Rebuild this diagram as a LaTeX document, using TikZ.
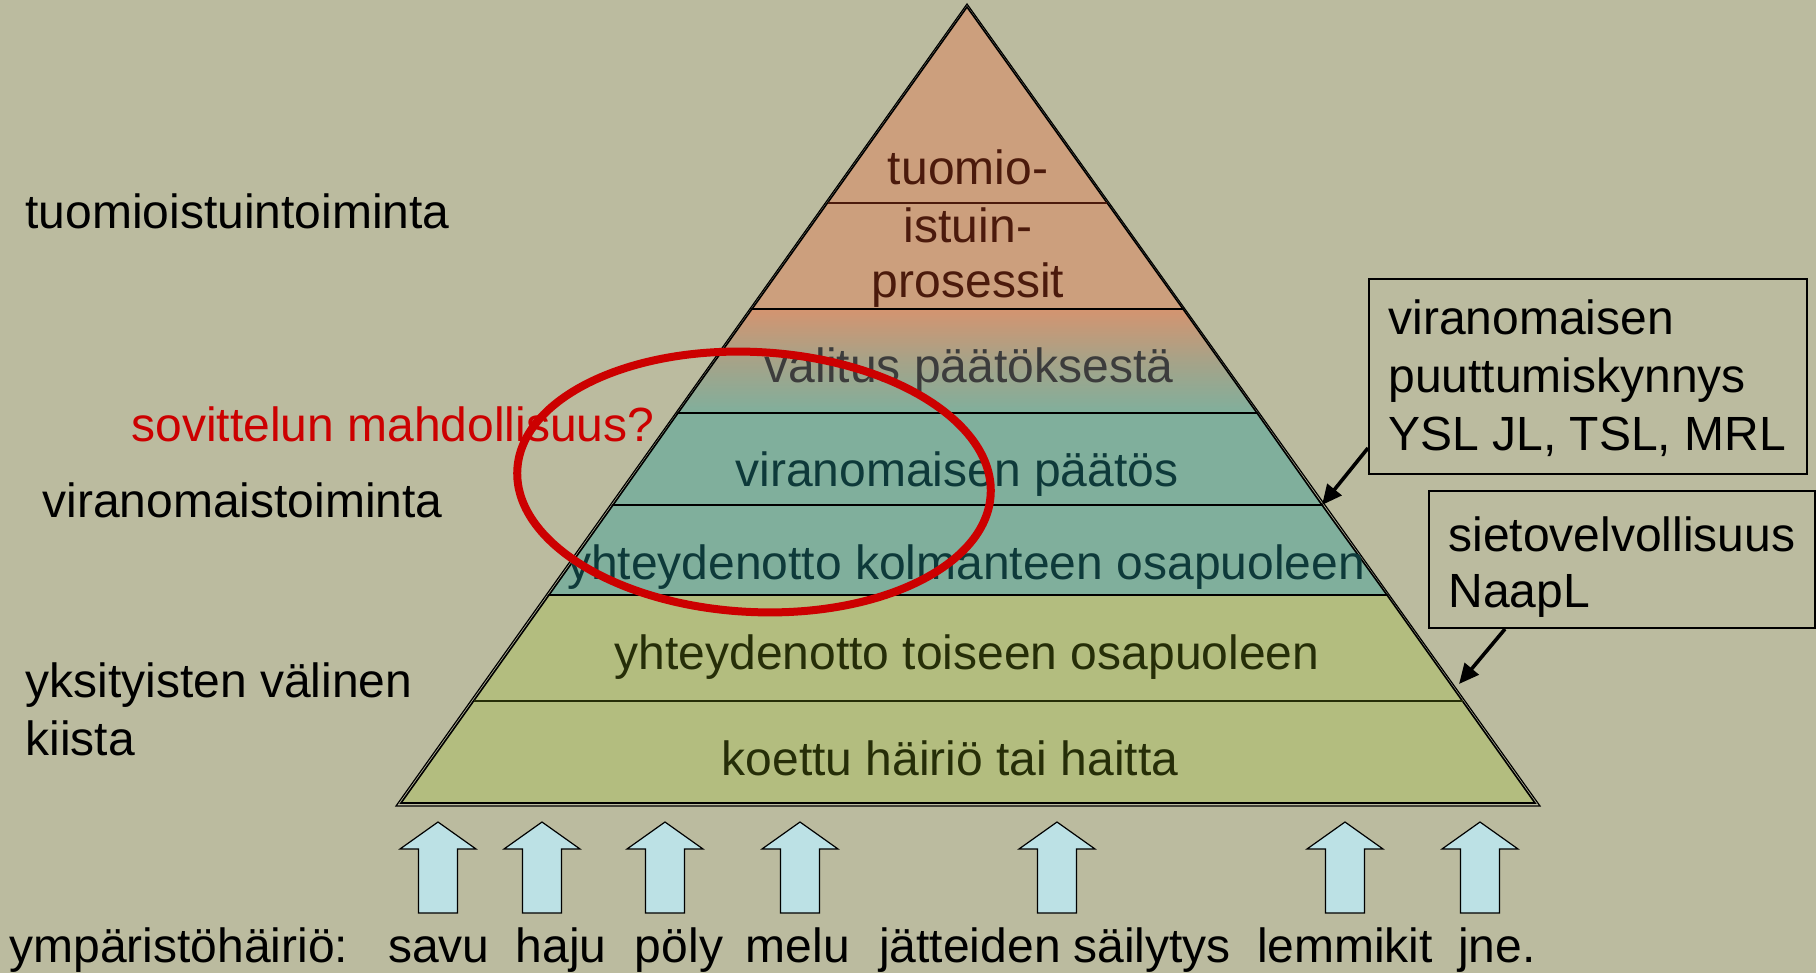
\documentclass[tikz,border=0pt]{standalone}
\usepackage{fontspec}
\setmainfont{Liberation Sans}
\usetikzlibrary{arrows.meta,calc}
\definecolor{bg}{RGB}{187,187,159}
\definecolor{salmon}{RGB}{204,159,125}
\definecolor{salmontop}{RGB}{212,148,112}
\definecolor{tealband}{RGB}{128,175,156}
\definecolor{greenband}{RGB}{179,189,127}
\definecolor{browntext}{RGB}{75,26,12}
\definecolor{tealtext}{RGB}{14,58,58}
\definecolor{greentext}{RGB}{38,46,8}
\definecolor{graytext}{RGB}{60,60,60}
\definecolor{redline}{RGB}{204,0,0}
\definecolor{arrowfill}{RGB}{188,225,229}
\begin{document}
\begin{tikzpicture}[x=0.5pt,y=-0.5pt,
  lbl/.style={font=\fontsize{24}{28}\selectfont, inner sep=0pt, anchor=base west},
  ctr/.style={font=\fontsize{24}{28}\selectfont, inner sep=0pt, anchor=base},
  sect/.style={draw=black, line width=0.8pt},
  blockarrow/.style={fill=arrowfill, draw=black, line width=0.6pt},
  callout/.style={draw=black, line width=1.8pt, -{Triangle[length=10pt,width=9pt]}},
  boxframe/.style={draw=black, line width=1pt, inner sep=0pt, anchor=north west}]
\useasboundingbox (0,0) rectangle (1816,973);
\fill[bg] (0,0) rectangle (1816,973);
% outer outline (double-line effect)
\draw[line width=0.6pt] (967,4) -- (1540,806) -- (396,806) -- cycle;
% sections
\filldraw[sect, fill=salmon] (967,7) -- (1183,309) -- (752,309) -- cycle;
\draw[browntext, line width=0.8pt] (828,203) -- (1107,203);
\shade[top color=salmontop, bottom color=tealband, middle color=salmontop!45!tealband] (752,309) -- (1183,309) -- (1257,413) -- (678,413) -- cycle;
\draw[sect] (752,309) -- (1183,309) -- (1257,413) -- (678,413) -- cycle;
\filldraw[sect, fill=tealband] (678,413) -- (1257,413) -- (1322,505) -- (613,505) -- cycle;
\filldraw[sect, fill=tealband] (613,505) -- (1322,505) -- (1387,595) -- (549,595) -- cycle;
\filldraw[sect, fill=greenband] (549,595) -- (1387,595) -- (1535,803) -- (401,803) -- cycle;
\draw[greentext, line width=0.9pt] (474,701) -- (1463,701);
% pyramid texts
\node[ctr, text=browntext] (t1) at (968,185) {tuomio-};
\node[ctr, text=browntext] (t2) at (968,243) {istuin-};
\node[ctr, text=browntext] (t3) at (968,298) {prosessit};
\node[ctr, text=graytext] (valitus) at (969,382) {valitus päätöksestä};
\node[ctr, text=tealtext] (paatos) at (957,486) {viranomaisen päätös};
\node[ctr, text=tealtext] (kolmas) at (966,579) {yhteydenotto kolmanteen osapuoleen};
\node[ctr, text=greentext] (toinen) at (967,669) {yhteydenotto toiseen osapuoleen};
\node[ctr, text=greentext] (koettu) at (950,775) {koettu häiriö tai haitta};
% left labels
\node[lbl] (tuomiotoim) at (25,229) {tuomioistuintoiminta};
\node[lbl, text=redline] (sovittelu) at (131,441) {sovittelun mahdollisuus?};
\node[lbl] (viranomaistoim) at (42,517) {viranomaistoiminta};
\node[lbl] (yks1) at (25,697) {yksityisten välinen};
\node[lbl] (yks2) at (25,755) {kiista};
% right boxes
\node[boxframe, minimum width=219pt, minimum height=97.5pt] (box1) at (1368,278) {};
\node[lbl] (b1a) at (1388,335) {viranomaisen};
\node[lbl] (b1b) at (1388,393) {puuttumiskynnys};
\node[lbl] (b1c) at (1388,451) {YSL JL, TSL, MRL};
\node[boxframe, minimum width=193pt, minimum height=68.5pt] (box2) at (1428,490) {};
\node[lbl] (b2a) at (1448,551) {sietovelvollisuus};
\node[lbl] (b2b) at (1448,607) {NaapL};
\coordinate (tip1) at (1322,505);
\coordinate (tip2) at (1459,684);
\draw[callout] ($(box1.south west)+(0,-27)$) -- (tip1);
\draw[callout] ($(box2.south west)+(77,0)$) -- (tip2);
% bottom block arrows
\foreach \cx in {438,542,665,800,1057,1345,1480}
  \draw[blockarrow] (\cx,822) -- ++(38,27) -- ++(-18.5,0) -- ++(0,64) -- ++(-39,0) -- ++(0,-64) -- ++(-18.5,0) -- cycle;
% bottom row
\node[lbl] (ymp) at (9,962) {ympäristöhäiriö:};
\node[ctr] (savu) at (439,962) {savu};
\node[ctr] (haju) at (561,962) {haju};
\node[ctr] (poly) at (679,962) {pöly};
\node[ctr] (melu) at (798,962) {melu};
\node[ctr] (jatteiden) at (970,962) {jätteiden};
\node[ctr] (sailytys) at (1152,962) {säilytys};
\node[ctr] (lemmikit) at (1345,962) {lemmikit};
\node[ctr] (jne) at (1497,962) {jne.};
% red ellipse
\draw[redline, line width=4pt, rotate around={-3:(754,482)}] (754,482) ellipse [x radius=237, y radius=130];
\end{tikzpicture}
\end{document}
